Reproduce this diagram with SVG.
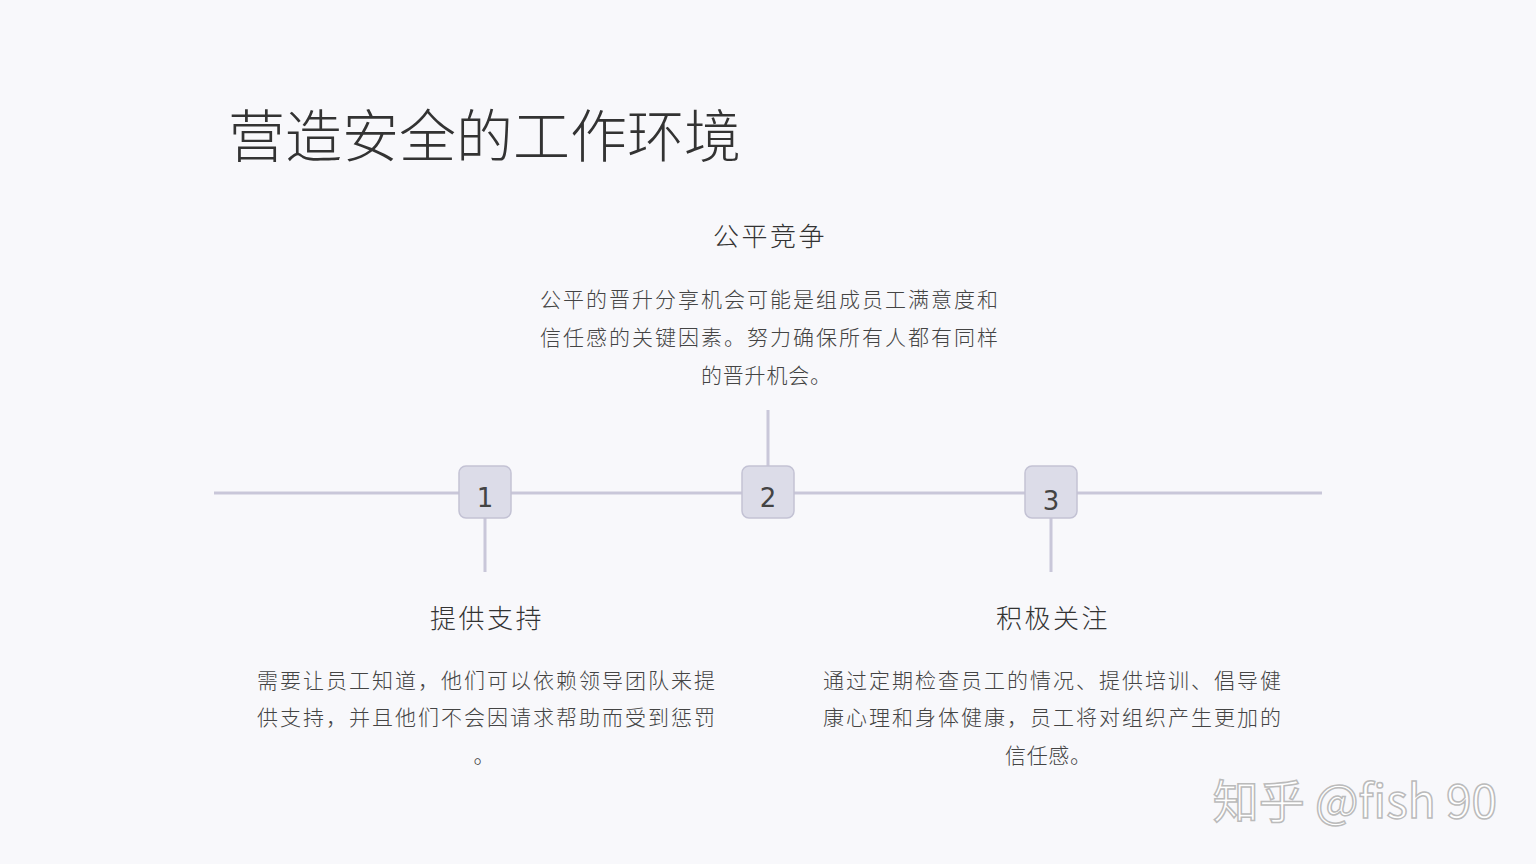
<svg xmlns="http://www.w3.org/2000/svg" width="1536" height="864" viewBox="0 0 1536 864">
<style>
.t{font-family:"Noto Sans CJK SC","Liberation Sans",sans-serif;fill:#333;}
.h{font-size:26px;letter-spacing:2.5px;text-anchor:middle;fill:#333;font-weight:300;}
.b{font-size:21px;text-anchor:middle;fill:#444;font-weight:300;}
.n{font-family:"DejaVu Sans","Liberation Sans",sans-serif;font-size:26px;text-anchor:middle;fill:#444;}
.box{fill:#dcdce8;stroke:#c3c2d4;stroke-width:1.5;}
.ln{stroke:#c9c7d9;stroke-width:3;fill:none;}
</style>
<rect width="1536" height="864" fill="#f8f8fb"/>
<text class="t" x="228" y="157" font-size="57" font-weight="300" fill="#222">营造安全的工作环境</text>
<g id="connectors">
<line class="ln" x1="214" y1="493" x2="1322" y2="493"/>
<line class="ln" x1="768" y1="410" x2="768" y2="466"/>
<line class="ln" x1="485" y1="518" x2="485" y2="572"/>
<line class="ln" x1="1051" y1="518" x2="1051" y2="572"/>
</g>
<g id="node1"><rect class="box" x="459" y="466" width="52" height="52" rx="7"/><text class="n" x="485" y="507">1</text></g>
<g id="node2"><rect class="box" x="742" y="466" width="52" height="52" rx="7"/><text class="n" x="768" y="507">2</text></g>
<g id="node3"><rect class="box" x="1025" y="466" width="52" height="52" rx="7"/><text class="n" x="1051" y="510">3</text></g>
<g id="text2">
<text class="t h" x="770" y="246">公平竞争</text>
<text class="t b" x="769" y="307" textLength="458" lengthAdjust="spacing">公平的晋升分享机会可能是组成员工满意度和</text>
<text class="t b" x="769" y="345" textLength="458" lengthAdjust="spacing">信任感的关键因素。努力确保所有人都有同样</text>
<text class="t b" x="766" y="383" textLength="130" lengthAdjust="spacing">的晋升机会。</text>
</g>
<g id="text1">
<text class="t h" x="487" y="628">提供支持</text>
<text class="t b" x="486" y="688" textLength="458" lengthAdjust="spacing">需要让员工知道，他们可以依赖领导团队来提</text>
<text class="t b" x="486" y="725" textLength="458" lengthAdjust="spacing">供支持，并且他们不会因请求帮助而受到惩罚</text>
<text class="t b" x="484" y="763">。</text>
</g>
<g id="text3">
<text class="t h" x="1053" y="628">积极关注</text>
<text class="t b" x="1052" y="688" textLength="458" lengthAdjust="spacing">通过定期检查员工的情况、提供培训、倡导健</text>
<text class="t b" x="1052" y="725" textLength="458" lengthAdjust="spacing">康心理和身体健康，员工将对组织产生更加的</text>
<text class="t b" x="1048" y="763" textLength="86" lengthAdjust="spacing">信任感。</text>
</g>
<text x="1497" y="818" text-anchor="end" font-family="Noto Sans CJK SC,Liberation Sans,sans-serif" font-size="46" fill="#fff" stroke="#bbb" stroke-width="1.5">知乎 @fish 90</text>
</svg>
